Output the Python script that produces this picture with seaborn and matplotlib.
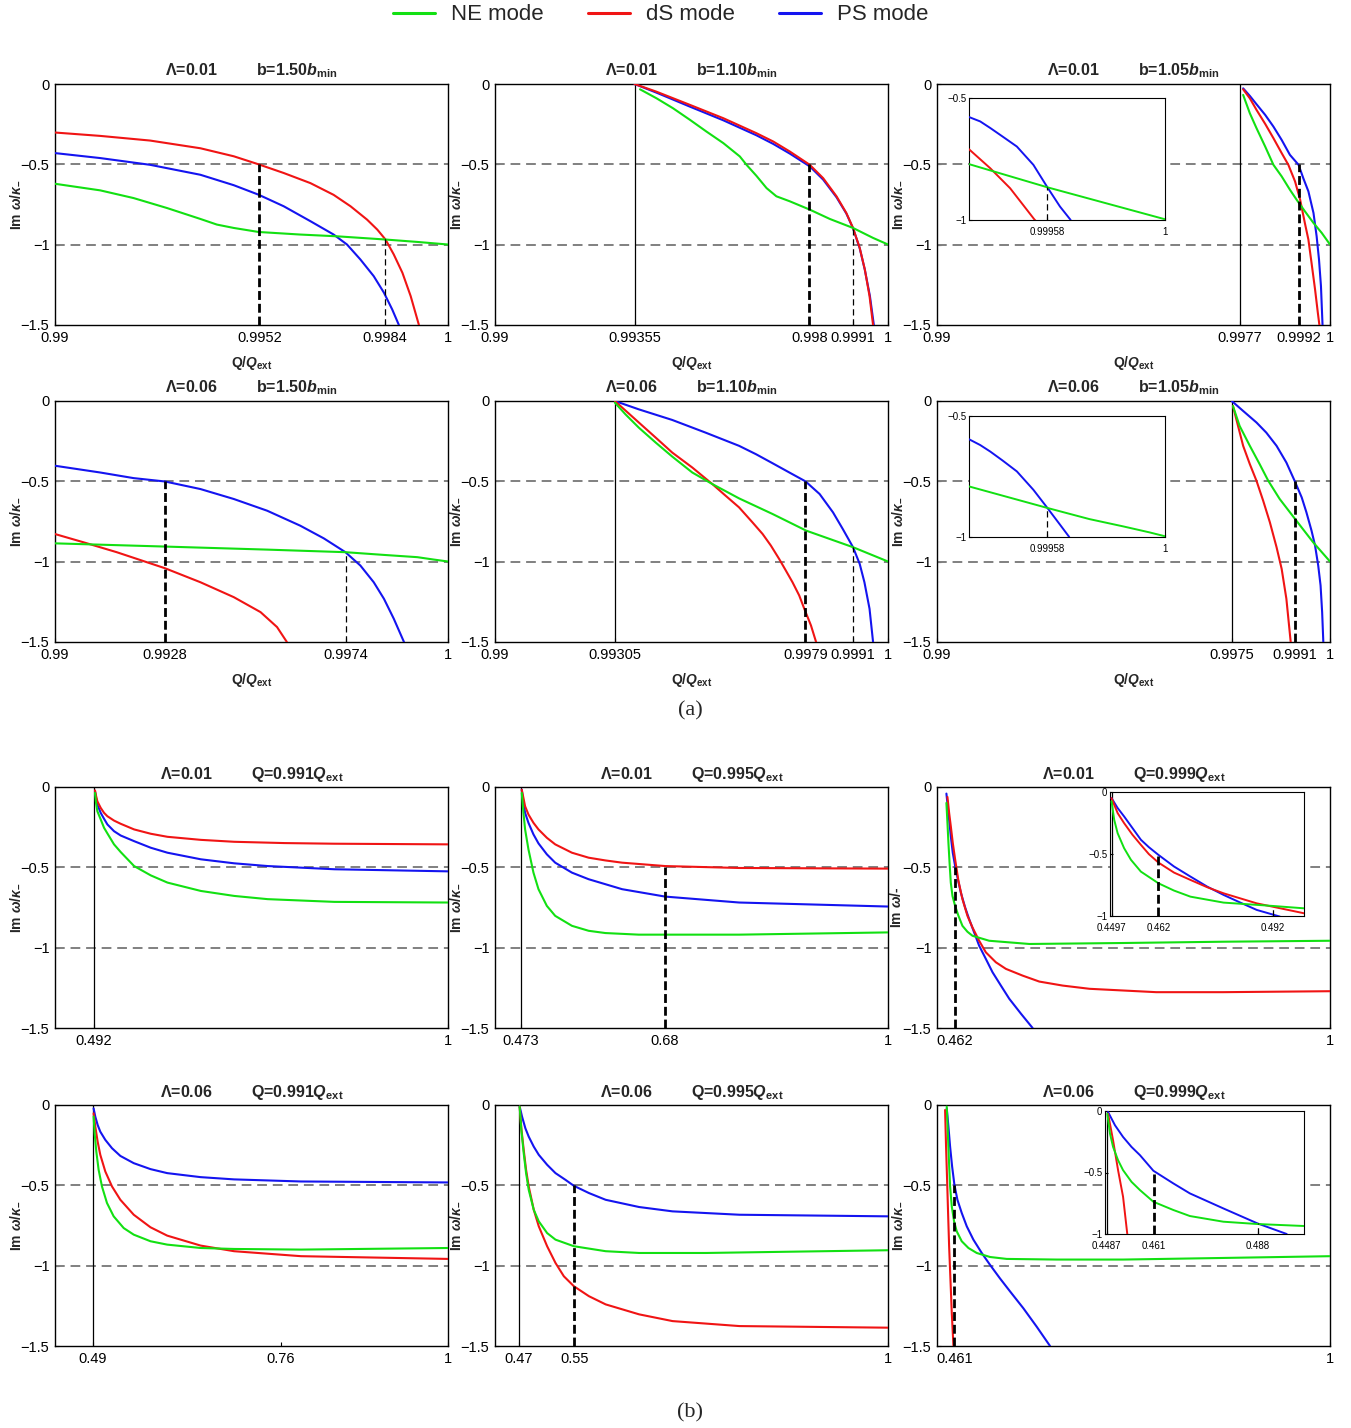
import matplotlib
matplotlib.use("Agg")
import matplotlib.pyplot as plt
from matplotlib.lines import Line2D
import pandas as pd
import seaborn as sns

NE_COLOR = "#12e012"
DS_COLOR = "#f01414"
PS_COLOR = "#1414f0"

# ---------------- (a) panels: Im w / kappa_-  vs  Q/Q_ext ----------------
# Lambda = 0.01, b = 1.50 b_min
a1_ne = [(0.990, -0.621), (0.99115, -0.662), (0.992, -0.71), (0.99285, -0.772), (0.9937, -0.84),
         (0.99412, -0.875), (0.99455, -0.896), (0.99518, -0.921), (0.99624, -0.937),
         (0.99718, -0.948), (0.99841, -0.968), (0.99922, -0.983), (1.0, -0.999)]
a1_ds = [(0.990, -0.302), (0.99115, -0.323), (0.99242, -0.352), (0.9937, -0.40), (0.99455, -0.45),
         (0.99518, -0.50), (0.99582, -0.554), (0.9965, -0.617), (0.99709, -0.69),
         (0.99752, -0.761), (0.99794, -0.844), (0.9982, -0.906), (0.99841, -0.968),
         (0.99862, -1.061), (0.99884, -1.175), (0.99905, -1.32), (0.99926, -1.50)]
a1_ps = [(0.990, -0.43), (0.99115, -0.461), (0.99242, -0.503), (0.9937, -0.565), (0.99455, -0.63),
         (0.99518, -0.689), (0.99582, -0.761), (0.9965, -0.854), (0.99709, -0.937),
         (0.99743, -0.999), (0.99777, -1.092), (0.99811, -1.196), (0.99837, -1.299),
         (0.99858, -1.403), (0.99875, -1.50)]
a1_ticks = [0.99, 0.9952, 0.9984, 1.0]

# Lambda = 0.01, b = 1.10 b_min
a2_ne = [(0.99369, -0.033), (0.99411, -0.089), (0.99453, -0.151), (0.99496, -0.223),
         (0.99538, -0.296), (0.99581, -0.368), (0.99623, -0.451), (0.9964, -0.503),
         (0.99665, -0.571), (0.99691, -0.648), (0.99716, -0.699), (0.9975, -0.73),
         (0.99801, -0.782), (0.99852, -0.84), (0.99911, -0.896), (0.99962, -0.958), (1.0, -0.999)]
a2_ds = [(0.99355, 0.0), (0.99411, -0.048), (0.99496, -0.13), (0.99581, -0.213), (0.99665, -0.306),
         (0.99708, -0.358), (0.9975, -0.42), (0.99801, -0.503), (0.99835, -0.586),
         (0.99869, -0.699), (0.99894, -0.803), (0.99911, -0.896), (0.99928, -1.02),
         (0.99941, -1.154), (0.99953, -1.32), (0.99962, -1.50)]
a2_ps = [(0.99355, 0.0), (0.99411, -0.054), (0.99496, -0.141), (0.99581, -0.226), (0.99665, -0.319),
         (0.99708, -0.373), (0.9975, -0.433), (0.99801, -0.513), (0.99835, -0.595),
         (0.99869, -0.705), (0.99894, -0.806), (0.99911, -0.898), (0.99928, -1.022),
         (0.99941, -1.156), (0.99954, -1.32), (0.99964, -1.50)]
a2_ticks = [0.99, 0.99355, 0.998, 0.9991, 1.0]

# Lambda = 0.01, b = 1.05 b_min
a3_ne = [(0.99779, -0.068), (0.99796, -0.182), (0.99813, -0.275), (0.99835, -0.389),
         (0.99856, -0.503), (0.99877, -0.575), (0.99898, -0.658), (0.99915, -0.72),
         (0.99936, -0.792), (0.99958, -0.865), (0.99979, -0.927), (1.0, -0.999)]
a3_ds = [(0.99779, -0.033), (0.99796, -0.089), (0.99813, -0.161), (0.99835, -0.248),
         (0.99856, -0.337), (0.99877, -0.43), (0.99894, -0.503), (0.99911, -0.606),
         (0.99924, -0.72), (0.99936, -0.865), (0.99945, -0.968), (0.99953, -1.113),
         (0.99962, -1.279), (0.99969, -1.423), (0.99973, -1.50)]
a3_ps = [(0.99779, -0.027), (0.99796, -0.074), (0.99813, -0.126), (0.99835, -0.192),
         (0.99856, -0.265), (0.99877, -0.348), (0.99898, -0.441), (0.9992, -0.503),
         (0.99932, -0.586), (0.99945, -0.668), (0.99958, -0.803), (0.99966, -0.948),
         (0.99972, -1.092), (0.99977, -1.258), (0.99981, -1.50)]
a3_ticks = [0.99, 0.9977, 0.9992, 1.0]
a3i_ne = [(0.9993, -0.771), (0.99958, -0.866), (1.0, -0.997)]
a3i_ds = [(0.9993, -0.71), (0.999376, -0.788), (0.999447, -0.87), (0.999533, -0.997), (0.99956, -1.03)]
a3i_ps = [(0.9993, -0.578), (0.99934, -0.596), (0.999376, -0.623), (0.99942, -0.658),
          (0.999471, -0.699), (0.99953, -0.774), (0.99958, -0.866), (0.999625, -0.945),
          (0.999661, -0.997), (0.99968, -1.03)]

# Lambda = 0.06, b = 1.50 b_min
a4_ne = [(0.990, -0.886), (0.9928, -0.906), (0.9954, -0.925), (0.99739, -0.941), (0.99837, -0.958),
         (0.99922, -0.972), (0.99964, -0.987), (1.0, -0.999)]
a4_ds = [(0.990, -0.828), (0.99072, -0.879), (0.99157, -0.941), (0.9928, -1.041), (0.9937, -1.128),
         (0.99455, -1.221), (0.99523, -1.314), (0.99565, -1.407), (0.9959, -1.50)]
a4_ps = [(0.990, -0.403), (0.99115, -0.445), (0.992, -0.48), (0.9928, -0.501), (0.9937, -0.548),
         (0.99455, -0.61), (0.9954, -0.683), (0.99624, -0.776), (0.99684, -0.855),
         (0.99739, -0.941), (0.99777, -1.024), (0.99811, -1.128), (0.99837, -1.231),
         (0.99862, -1.355), (0.99888, -1.50)]
a4_ticks = [0.99, 0.9928, 0.9974, 1.0]

# Lambda = 0.06, b = 1.10 b_min
a5_ne = [(0.99305, -0.01), (0.99332, -0.083), (0.99366, -0.166), (0.99409, -0.259),
         (0.99451, -0.346), (0.99502, -0.445), (0.99553, -0.517), (0.99621, -0.606),
         (0.99706, -0.703), (0.99792, -0.807), (0.99911, -0.91), (1.0, -0.999)]
a5_ds = [(0.99305, 0.0), (0.99366, -0.134), (0.99409, -0.228), (0.99451, -0.321), (0.99502, -0.414),
         (0.99553, -0.517), (0.99587, -0.59), (0.99621, -0.662), (0.99655, -0.755),
         (0.99681, -0.828), (0.99702, -0.90), (0.99723, -0.983), (0.9974, -1.055),
         (0.99757, -1.128), (0.99774, -1.21), (0.99787, -1.293), (0.99804, -1.397), (0.99817, -1.50)]
a5_ps = [(0.99305, 0.0), (0.99366, -0.052), (0.99451, -0.118), (0.99536, -0.197), (0.99621, -0.279),
         (0.99664, -0.331), (0.99706, -0.387), (0.99749, -0.445), (0.9979, -0.50),
         (0.99826, -0.579), (0.9986, -0.693), (0.99885, -0.797), (0.99911, -0.91),
         (0.99928, -1.014), (0.9994, -1.128), (0.99953, -1.293), (0.99962, -1.50)]
a5_ticks = [0.99, 0.99305, 0.9979, 0.9991, 1.0]

# Lambda = 0.06, b = 1.05 b_min
a6_ne = [(0.99753, -0.031), (0.9977, -0.155), (0.99796, -0.279), (0.99821, -0.393),
         (0.99843, -0.497), (0.99872, -0.61), (0.99911, -0.734), (0.99957, -0.879), (1.0, -0.999)]
a6_ds = [(0.99753, -0.031), (0.99766, -0.155), (0.99779, -0.279), (0.99796, -0.393),
         (0.99813, -0.497), (0.9983, -0.621), (0.99847, -0.755), (0.99864, -0.91),
         (0.99877, -1.045), (0.99889, -1.231), (0.999, -1.50)]
a6_ps = [(0.9975, 0.0), (0.99779, -0.062), (0.99813, -0.134), (0.99838, -0.197), (0.99864, -0.279),
         (0.99889, -0.383), (0.9991, -0.497), (0.99928, -0.60), (0.9994, -0.693),
         (0.99953, -0.807), (0.99962, -0.90), (0.9997, -1.024), (0.99976, -1.148),
         (0.9998, -1.314), (0.99983, -1.50)]
a6_ticks = [0.99, 0.9975, 0.9991, 1.0]
a6i_ne = [(0.9993, -0.791), (0.99958, -0.88), (0.99973, -0.926), (0.99985, -0.956),
          (0.999945, -0.981), (1.0, -0.997)]
a6i_ps = [(0.9993, -0.596), (0.99934, -0.62), (0.999376, -0.647), (0.99942, -0.684),
          (0.999471, -0.729), (0.99953, -0.805), (0.99958, -0.88), (0.999625, -0.949), (0.999658, -1.0)]

# ---------------- (b) panels ----------------
b1_ne = [(0.4934, -0.037), (0.4949, -0.099), (0.4968, -0.151), (0.5016, -0.202), (0.5064, -0.254),
         (0.5112, -0.289), (0.5207, -0.357), (0.5303, -0.405), (0.5495, -0.492), (0.5734, -0.55),
         (0.5974, -0.595), (0.6453, -0.647), (0.6932, -0.678), (0.7411, -0.698),
         (0.8369, -0.715), (1.0, -0.719)]
b1_ds = [(0.4934, -0.021), (0.4949, -0.054), (0.4968, -0.089), (0.5016, -0.13), (0.5064, -0.161),
         (0.5112, -0.182), (0.5207, -0.209), (0.5303, -0.229), (0.5495, -0.264), (0.5734, -0.291),
         (0.5974, -0.31), (0.6453, -0.329), (0.6932, -0.341), (0.765, -0.349),
         (0.8369, -0.353), (1.0, -0.357)]
b1_ps = [(0.4934, -0.027), (0.4949, -0.068), (0.4968, -0.11), (0.5016, -0.161), (0.5064, -0.198),
         (0.5112, -0.233), (0.5207, -0.275), (0.5303, -0.302), (0.5495, -0.337), (0.5734, -0.378),
         (0.5974, -0.409), (0.6453, -0.45), (0.6932, -0.475), (0.7411, -0.492),
         (0.8369, -0.512), (1.0, -0.525)]
b1_ticks = [0.492, 1.0]

b2_ne = [(0.4744, -0.037), (0.4768, -0.161), (0.4792, -0.264), (0.484, -0.388), (0.4912, -0.533),
         (0.4984, -0.636), (0.5104, -0.74), (0.5224, -0.802), (0.5464, -0.864), (0.5704, -0.895),
         (0.5944, -0.909), (0.6424, -0.919), (0.68, -0.919), (0.7864, -0.919), (1.0, -0.905)]
b2_ds = [(0.4744, -0.017), (0.4768, -0.068), (0.4792, -0.12), (0.484, -0.171), (0.4912, -0.223),
         (0.4984, -0.264), (0.5104, -0.316), (0.5224, -0.357), (0.5464, -0.409), (0.5704, -0.44),
         (0.5944, -0.457), (0.6184, -0.471), (0.68, -0.492), (0.7864, -0.504), (1.0, -0.508)]
b2_ps = [(0.4744, -0.017), (0.4768, -0.099), (0.4792, -0.161), (0.484, -0.223), (0.4912, -0.295),
         (0.4984, -0.351), (0.5104, -0.419), (0.5224, -0.471), (0.5464, -0.533), (0.5704, -0.574),
         (0.5944, -0.605), (0.6184, -0.636), (0.68, -0.682), (0.7864, -0.719), (1.0, -0.744)]
b2_ticks = [0.473, 0.68, 1.0]

b3_ne = [(0.4495, -0.099), (0.451, -0.223), (0.4524, -0.347), (0.4543, -0.492), (0.4558, -0.595),
         (0.4582, -0.678), (0.462, -0.74), (0.4668, -0.802), (0.4725, -0.864), (0.4797, -0.901),
         (0.4869, -0.926), (0.5109, -0.957), (0.5684, -0.977), (0.7027, -0.971),
         (0.8466, -0.963), (1.0, -0.957)]
b3_ds = [(0.451, -0.062), (0.4534, -0.161), (0.4558, -0.244), (0.4586, -0.347), (0.462, -0.45),
         (0.4668, -0.585), (0.4725, -0.698), (0.4797, -0.802), (0.4869, -0.874), (0.4965, -0.957),
         (0.5061, -1.029), (0.5205, -1.091), (0.5349, -1.132), (0.5589, -1.174), (0.5828, -1.211),
         (0.6164, -1.236), (0.6548, -1.256), (0.7507, -1.277), (0.8466, -1.277), (1.0, -1.271)]
b3_ps = [(0.4495, -0.041), (0.4524, -0.161), (0.4558, -0.306), (0.4586, -0.409), (0.462, -0.492),
         (0.4654, -0.564), (0.4702, -0.657), (0.4764, -0.75), (0.4821, -0.822), (0.4893, -0.905),
         (0.4965, -0.988), (0.5061, -1.07), (0.5157, -1.153), (0.5277, -1.236), (0.5397, -1.318),
         (0.5565, -1.411), (0.5732, -1.50)]
b3_ticks = [0.462, 1.0]
b3i_ne = [(0.4497, -0.075), (0.4504, -0.224), (0.4513, -0.332), (0.453, -0.453), (0.4548, -0.547),
          (0.4574, -0.642), (0.462, -0.736), (0.4661, -0.795), (0.4704, -0.844), (0.4791, -0.892),
          (0.492, -0.919), (0.5002, -0.938)]
b3i_ds = [(0.4497, -0.049), (0.4513, -0.17), (0.453, -0.251), (0.4552, -0.345), (0.4574, -0.426),
          (0.4595, -0.501), (0.462, -0.569), (0.4661, -0.65), (0.4704, -0.709), (0.4748, -0.768),
          (0.4791, -0.817), (0.4878, -0.898), (0.5002, -0.978)]
b3i_ps = [(0.4497, -0.049), (0.4513, -0.129), (0.453, -0.197), (0.4552, -0.291), (0.4574, -0.385),
          (0.4595, -0.445), (0.462, -0.507), (0.4661, -0.601), (0.4704, -0.682), (0.4748, -0.763),
          (0.4791, -0.83), (0.4835, -0.892), (0.4878, -0.951), (0.4939, -1.005)]

b4_ne = [(0.4914, -0.072), (0.4929, -0.176), (0.4953, -0.29), (0.4986, -0.403), (0.5034, -0.507),
         (0.5106, -0.61), (0.5202, -0.693), (0.5346, -0.766), (0.549, -0.807), (0.573, -0.848),
         (0.597, -0.869), (0.645, -0.89), (0.693, -0.896), (0.789, -0.90), (1.0, -0.89)]
b4_ds = [(0.4914, -0.052), (0.4938, -0.134), (0.4972, -0.228), (0.501, -0.31), (0.5082, -0.414),
         (0.5178, -0.507), (0.5298, -0.59), (0.549, -0.683), (0.573, -0.761), (0.597, -0.813),
         (0.645, -0.875), (0.693, -0.91), (0.789, -0.941), (1.0, -0.958)]
b4_ps = [(0.4914, -0.021), (0.4938, -0.072), (0.4972, -0.124), (0.501, -0.166), (0.5082, -0.217),
         (0.5178, -0.269), (0.5298, -0.317), (0.549, -0.362), (0.573, -0.399), (0.597, -0.424),
         (0.645, -0.449), (0.693, -0.463), (0.789, -0.476), (1.0, -0.482)]
b4_ticks = [0.49, 0.76, 1.0]

b5_ne = [(0.4714, -0.01), (0.4738, -0.155), (0.4772, -0.30), (0.4806, -0.424), (0.4844, -0.528),
         (0.4916, -0.652), (0.4988, -0.724), (0.5108, -0.797), (0.5228, -0.838), (0.5492, -0.879),
         (0.5948, -0.91), (0.6428, -0.921), (0.7388, -0.921), (1.0, -0.904)]
b5_ds = [(0.4714, -0.01), (0.4738, -0.145), (0.4772, -0.279), (0.4806, -0.403), (0.4844, -0.507),
         (0.4916, -0.652), (0.4988, -0.755), (0.5108, -0.879), (0.5228, -0.983), (0.5348, -1.066),
         (0.5492, -1.128), (0.5708, -1.19), (0.5948, -1.241), (0.6428, -1.303), (0.6908, -1.345),
         (0.7868, -1.376), (1.0, -1.386)]
b5_ps = [(0.4714, -0.01), (0.4748, -0.072), (0.4796, -0.145), (0.4844, -0.197), (0.4916, -0.259),
         (0.4988, -0.31), (0.5108, -0.372), (0.5228, -0.424), (0.5372, -0.466), (0.5492, -0.503),
         (0.5708, -0.548), (0.5948, -0.59), (0.6428, -0.635), (0.6908, -0.662), (0.7868, -0.683),
         (1.0, -0.693)]
b5_ticks = [0.47, 0.55, 1.0]

b6_ne = [(0.45, -0.01), (0.4514, -0.155), (0.4529, -0.321), (0.4548, -0.507), (0.4572, -0.631),
         (0.4605, -0.724), (0.4643, -0.786), (0.4715, -0.848), (0.4811, -0.89), (0.493, -0.921),
         (0.5121, -0.946), (0.536, -0.958), (0.6077, -0.962), (0.7033, -0.962),
         (0.8467, -0.952), (1.0, -0.941)]
b6_ds = [(0.4476, -0.031), (0.449, -0.259), (0.4505, -0.466), (0.4519, -0.672), (0.4534, -0.879),
         (0.4553, -1.086), (0.4572, -1.293), (0.4596, -1.50)]
b6_ps = [(0.45, -0.021), (0.4524, -0.134), (0.4548, -0.259), (0.4577, -0.383), (0.461, -0.497),
         (0.4653, -0.59), (0.4715, -0.672), (0.4787, -0.755), (0.4882, -0.838), (0.5002, -0.921),
         (0.5121, -0.995), (0.5265, -1.08), (0.5408, -1.16), (0.5599, -1.265), (0.5791, -1.38),
         (0.5982, -1.50)]
b6_ticks = [0.461, 1.0]
b6i_ne = [(0.4489, -0.022), (0.4496, -0.184), (0.4504, -0.292), (0.4517, -0.40), (0.453, -0.481),
          (0.4552, -0.576), (0.4574, -0.643), (0.4609, -0.738), (0.4661, -0.805), (0.4704, -0.854),
          (0.4791, -0.90), (0.488, -0.919), (0.5001, -0.935)]
b6i_ds = [(0.4491, -0.022), (0.4504, -0.238), (0.4517, -0.481), (0.453, -0.697), (0.4541, -1.0)]
b6i_ps = [(0.4491, -0.008), (0.4509, -0.116), (0.453, -0.211), (0.4552, -0.292), (0.4574, -0.359),
          (0.4609, -0.486), (0.4661, -0.589), (0.4704, -0.67), (0.4791, -0.792), (0.488, -0.914),
          (0.4956, -1.0)]

y_ticks = [0, -0.5, -1, -1.5]
guide_levels = [-0.5, -1.0]

sns.set_theme(style="white")
plt.rcParams["font.family"] = ["Liberation Sans", "DejaVu Sans"]
plt.rcParams["mathtext.fontset"] = "custom"
plt.rcParams["mathtext.rm"] = "Liberation Sans"
plt.rcParams["mathtext.it"] = "Liberation Sans:italic"
plt.rcParams["mathtext.bf"] = "Liberation Sans:bold"
plt.rcParams["mathtext.bfit"] = "Liberation Sans:bold:italic"

W, H = 1351, 1428
fig = plt.figure(figsize=(W / 100, H / 100), dpi=100)
fig.patch.set_facecolor("white")


def px_axes(left, top, width, height, **kw):
    return fig.add_axes([left / W, 1 - (top + height) / H, width / W, height / H], **kw)


def fmt(v):
    return f"{v:g}".replace("-", "\u2212")


def draw_curve(ax, pts, color, lw=1.5):
    df = pd.DataFrame(pts, columns=["q", "im"])
    sns.lineplot(data=df, x="q", y="im", ax=ax, color=color, linewidth=lw,
                 sort=False, estimator=None, errorbar=None, zorder=3)


def style(ax, xlim, ylim, xticks, yticks, fs, spine_lw=1.0, xpad=4, ypad=4):
    ax.set_xlim(*xlim)
    ax.set_ylim(*ylim)
    ax.set_xticks(xticks)
    ax.set_xticklabels([fmt(t) for t in xticks])
    ax.set_yticks(yticks)
    ax.set_yticklabels([fmt(t) for t in yticks])
    ax.tick_params(direction="in", length=3, width=0.8, labelsize=fs,
                   bottom=True, left=True, colors="black")
    ax.tick_params(axis="x", pad=xpad)
    ax.tick_params(axis="y", pad=ypad)
    for s in ax.spines.values():
        s.set_color("black")
        s.set_linewidth(spine_lw)
    ax.set_xlabel("")
    ax.set_ylabel("")
    ax.grid(False)


def markers(ax, solid=None, thick=None, thin=None, ymin=-1.5, ytop=0.0):
    if solid is not None:
        ax.vlines(solid, ymin, ytop, color="black", lw=0.9, zorder=2)
    if thick is not None:
        ax.vlines(thick[0], ymin, thick[1], color="black", lw=2.0,
                  linestyles=(0, (3.2, 1.4)), zorder=4)
    if thin is not None:
        ax.vlines(thin[0], ymin, thin[1], color="black", lw=0.9,
                  linestyles=(0, (5, 3)), zorder=4)


col_left = [55, 495, 937]
row_top = [84, 401, 787, 1105]
ax_w, ax_h = 393, 241

ylab = r"Im $\mathbfit{\omega}$/$\mathbfit{\kappa}_{\mathbf{-}}$"
xlab_a = r"Q/$\mathbfit{Q}_{\mathbf{ext}}$"
gap = "         "

panels = [
    # (row, col, curves, xlim, ticks, title, solid, thick, thin)
    (0, 0, (a1_ps, a1_ds, a1_ne), (0.99, 1.0), a1_ticks,
     "\u039b=0.01" + gap + r"b=1.50$\mathbfit{b}_{\mathbf{min}}$", None, (0.9952, -0.5), (0.9984, -0.96)),
    (0, 1, (a2_ps, a2_ds, a2_ne), (0.99, 1.0), a2_ticks,
     "\u039b=0.01" + gap + r"b=1.10$\mathbfit{b}_{\mathbf{min}}$", 0.99355, (0.998, -0.5), (0.9991, -0.90)),
    (0, 2, (a3_ps, a3_ds, a3_ne), (0.99, 1.0), a3_ticks,
     "\u039b=0.01" + gap + r"b=1.05$\mathbfit{b}_{\mathbf{min}}$", 0.9977, (0.9992, -0.5), None),
    (1, 0, (a4_ps, a4_ds, a4_ne), (0.99, 1.0), a4_ticks,
     "\u039b=0.06" + gap + r"b=1.50$\mathbfit{b}_{\mathbf{min}}$", None, (0.9928, -0.5), (0.9974, -0.94)),
    (1, 1, (a5_ps, a5_ds, a5_ne), (0.99, 1.0), a5_ticks,
     "\u039b=0.06" + gap + r"b=1.10$\mathbfit{b}_{\mathbf{min}}$", 0.99305, (0.9979, -0.5), (0.9991, -0.91)),
    (1, 2, (a6_ps, a6_ds, a6_ne), (0.99, 1.0), a6_ticks,
     "\u039b=0.06" + gap + r"b=1.05$\mathbfit{b}_{\mathbf{min}}$", 0.9975, (0.9991, -0.5), None),
    (2, 0, (b1_ps, b1_ds, b1_ne), (0.436, 1.0), b1_ticks,
     "\u039b=0.01" + gap + r"Q=0.991$\mathbfit{Q}_{\mathbf{ext}}$", 0.492, None, None),
    (2, 1, (b2_ps, b2_ds, b2_ne), (0.436, 1.0), b2_ticks,
     "\u039b=0.01" + gap + r"Q=0.995$\mathbfit{Q}_{\mathbf{ext}}$", 0.473, (0.68, -0.496), None),
    (2, 2, (b3_ps, b3_ds, b3_ne), (0.436, 1.0), b3_ticks,
     "\u039b=0.01" + gap + r"Q=0.999$\mathbfit{Q}_{\mathbf{ext}}$", None, (0.462, -0.5), None),
    (3, 0, (b4_ps, b4_ds, b4_ne), (0.436, 1.0), b4_ticks,
     "\u039b=0.06" + gap + r"Q=0.991$\mathbfit{Q}_{\mathbf{ext}}$", 0.49, None, None),
    (3, 1, (b5_ps, b5_ds, b5_ne), (0.436, 1.0), b5_ticks,
     "\u039b=0.06" + gap + r"Q=0.995$\mathbfit{Q}_{\mathbf{ext}}$", 0.47, (0.55, -0.5), None),
    (3, 2, (b6_ps, b6_ds, b6_ne), (0.436, 1.0), b6_ticks,
     "\u039b=0.06" + gap + r"Q=0.999$\mathbfit{Q}_{\mathbf{ext}}$", None, (0.461, -0.5), None),
]

colors = (PS_COLOR, DS_COLOR, NE_COLOR)

for row, col, curves, xlim, ticks, title, solid, thick, thin in panels:
    ax = px_axes(col_left[col], row_top[row], ax_w, ax_h)
    for lvl in guide_levels:
        ax.axhline(lvl, color="#808080", lw=1.4, ls=(0, (5, 3)), zorder=1)
    for pts, c in zip(curves, colors):
        draw_curve(ax, pts, c)
    markers(ax, solid, thick, thin)
    style(ax, xlim, (-1.5, 0), ticks, y_ticks, 10.5)
    ax.set_title(title, fontsize=11.5, fontweight="bold", pad=6)
    if row == 2 and col == 2:
        ax.set_ylabel(r"Im $\mathbfit{\omega}$/-", fontsize=10, fontweight="bold", labelpad=-1)
    else:
        ax.set_ylabel(ylab, fontsize=10, fontweight="bold", labelpad=-1)
    if row < 2:
        ax.set_xlabel(xlab_a, fontsize=10, fontweight="bold", labelpad=7)

# ---- insets
insets = [
    (969, 98, 196, 122, (a3i_ps, a3i_ds, a3i_ne), (0.9993, 1.0), (-1.0, -0.5),
     [0.99958, 1.0], [-0.5, -1], None, None, (0.99958, -0.866)),
    (969, 416, 196, 121, (a6i_ps, None, a6i_ne), (0.9993, 1.0), (-1.0, -0.5),
     [0.99958, 1.0], [-0.5, -1], None, None, (0.99958, -0.88)),
    (1110, 792, 194, 124, (b3i_ps, b3i_ds, b3i_ne), (0.4493, 0.5002), (-1.0, 0.0),
     [0.4497, 0.462, 0.492], [0, -0.5, -1], 0.4497, (0.462, -0.5), (0.492, -0.919)),
    (1105, 1111, 199, 123, (b6i_ps, b6i_ds, b6i_ne), (0.4483, 0.5001), (-1.0, 0.0),
     [0.4487, 0.461, 0.488], [0, -0.5, -1], 0.4487, (0.461, -0.486), (0.488, -0.914)),
]
for l, t, w, h, curves, xlim, ylim, xt, yt, solid, thick, thin in insets:
    iax = px_axes(l, t, w, h, zorder=5)
    iax.set_facecolor("white")
    for pts, c in zip(curves, colors):
        if pts is not None:
            draw_curve(iax, pts, c, lw=1.4)
    markers(iax, solid, thick, thin, ymin=ylim[0], ytop=ylim[1])
    style(iax, xlim, ylim, xt, yt, 7, spine_lw=0.8, xpad=5, ypad=2)
    iax.tick_params(length=2)

# ---- legend and captions
handles = [Line2D([], [], color=NE_COLOR, lw=2.2),
           Line2D([], [], color=DS_COLOR, lw=2.2),
           Line2D([], [], color=PS_COLOR, lw=2.2)]
fig.legend(handles, ["NE mode", "dS mode", "PS mode"], loc="upper center",
           bbox_to_anchor=(0.489, 1.011), ncol=3, frameon=False, fontsize=16,
           handlelength=1.9, handletextpad=0.7, columnspacing=2.0)

fig.text(690 / W, 1 - 711 / H, "(a)", ha="center", va="center", fontsize=16,
         family=["Liberation Serif", "DejaVu Serif"])
fig.text(690 / W, 1 - 1413 / H, "(b)", ha="center", va="center", fontsize=16,
         family=["Liberation Serif", "DejaVu Serif"])

fig.savefig("out.png", dpi=100, facecolor="white")
